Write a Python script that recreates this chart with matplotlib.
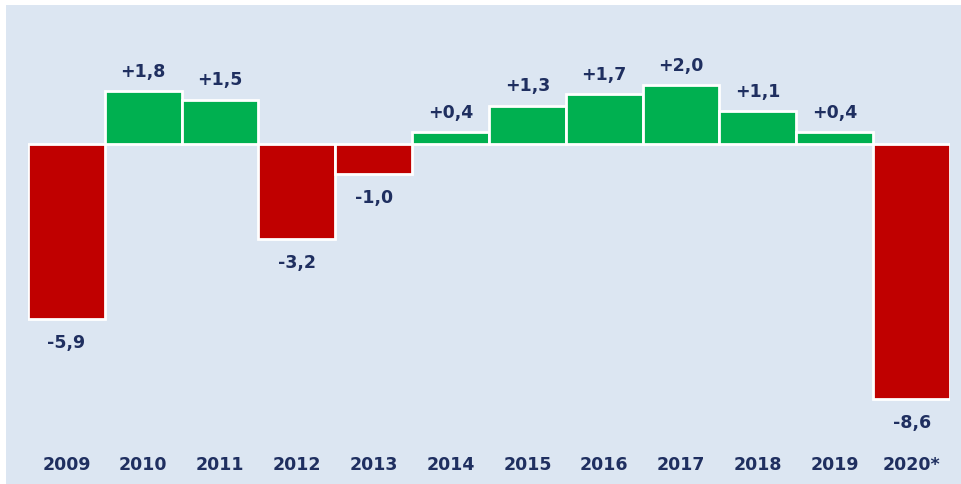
import matplotlib.pyplot as plt

# ── Data ────────────────────────────────────────────────────────────────
YEARS = ["2009", "2010", "2011", "2012", "2013", "2014",
         "2015", "2016", "2017", "2018", "2019", "2020*"]
VALUES = [-5.9, 1.8, 1.5, -3.2, -1.0, 0.4, 1.3, 1.7, 2.0, 1.1, 0.4, -8.6]

# ── Colours ─────────────────────────────────────────────────────────────
PANEL_BG = "#DCE6F2"
RED = "#C00000"
GREEN = "#00B050"
NAVY = "#1F2F60"

W, H = 962, 485
fig = plt.figure(figsize=(W / 100, H / 100), dpi=100, facecolor="white")

# light panel behind the chart
bg = fig.add_axes([6 / W, 0, 1 - 6 / W, 1 - 6 / H], zorder=-1)
bg.set_facecolor(PANEL_BG)
bg.set_xticks([])
bg.set_yticks([])
for spine in bg.spines.values():
    spine.set_visible(False)

ax = fig.add_axes([28 / W, 0, (950 - 28) / W, 1 - 6 / H], zorder=1)
ax.set_facecolor("none")

px_per_unit = 29.6
zero_px = 145
ax.set_xlim(-0.5, len(YEARS) - 0.5)
ax.set_ylim(-(H - zero_px) / px_per_unit, (zero_px - 6) / px_per_unit)

x = list(range(len(YEARS)))
colors = [GREEN if v >= 0 else RED for v in VALUES]
ax.bar(x, VALUES, width=1.0, color=colors, edgecolor="white",
       linewidth=2.0, zorder=2)

font = dict(family="DejaVu Sans", fontweight="bold", fontsize=12.5, color=NAVY)

for xi, v in zip(x, VALUES):
    label = f"{v:+.1f}".replace(".", ",")
    if v >= 0:
        ax.text(xi, v + 0.68, label, ha="center", va="center", **font)
    else:
        ax.text(xi, v - 0.78, label, ha="center", va="center", **font)

for xi, yr in zip(x, YEARS):
    ax.text(xi, -(465 - zero_px) / px_per_unit, yr, ha="center", va="center", **font)

ax.set_xticks([])
ax.set_yticks([])
for spine in ax.spines.values():
    spine.set_visible(False)

fig.savefig("out.png", dpi=100, facecolor="white")
